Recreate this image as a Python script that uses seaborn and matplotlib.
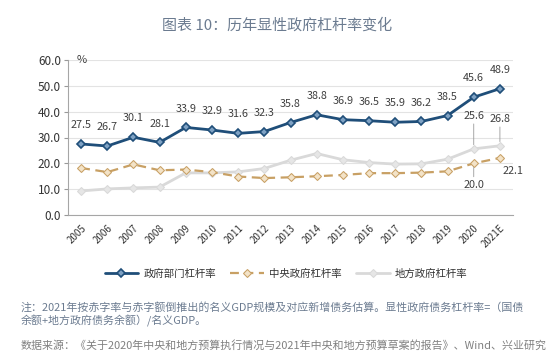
import matplotlib
import numpy as np
import pandas as pd

matplotlib.use("Agg")
import matplotlib.pyplot as plt  # noqa: E402
import seaborn as sns  # noqa: E402

# 数据
years = ["2005", "2006", "2007", "2008", "2009", "2010", "2011", "2012", "2013",
         "2014", "2015", "2016", "2017", "2018", "2019", "2020", "2021E"]
total = [27.5, 26.7, 30.1, 28.1, 33.9, 32.9, 31.6, 32.3, 35.8,
         38.8, 36.9, 36.5, 35.9, 36.2, 38.5, 45.6, 48.9]
central = [18.2, 16.6, 19.6, 17.3, 17.6, 16.6, 14.9, 14.3, 14.6,
           15.0, 15.5, 16.2, 16.2, 16.4, 16.9, 20.0, 22.1]
local = [9.3, 10.1, 10.5, 10.8, 16.3, 16.3, 16.7, 18.0, 21.2,
         23.8, 21.4, 20.3, 19.7, 19.8, 21.6, 25.6, 26.8]
names = ["政府部门杠杆率", "中央政府杠杆率", "地方政府杠杆率"]

sns.set_style("white")
plt.rcParams["font.family"] = ["Noto Sans CJK SC", "DejaVu Sans"]

NAVY = "#1f4e79"
TAN = "#c8a064"
LGRAY = "#d9d9d9"
TXT = "#404040"

df = pd.DataFrame({"idx": np.arange(len(years)), "total": total,
                   "central": central, "local": local})

fig = plt.figure(figsize=(5.54, 3.54), dpi=100)
ax = fig.add_axes([68 / 554, 1 - 215 / 354, 445 / 554, 155 / 354])

ax.set_axisbelow(True)
ax.grid(axis="y", color="#e3e3e3", lw=0.8)

sns.lineplot(data=df, x="idx", y="local", ax=ax, color=LGRAY, lw=2,
             marker="D", ms=4, mec=LGRAY, mfc="#e6e6e6", label=names[2], zorder=2)
sns.lineplot(data=df, x="idx", y="central", ax=ax, color=TAN, lw=1.6,
             marker="D", ms=4, mec=TAN, mfc="#f3e3c8", label=names[1], zorder=3)
ax.lines[-1].set_linestyle((0, (4, 2.5)))
sns.lineplot(data=df, x="idx", y="total", ax=ax, color=NAVY, lw=2,
             marker="D", ms=4.2, mec=NAVY, mfc="#7fa2c4", mew=1.2, label=names[0], zorder=4)

# 数据标签
for i, v in enumerate(total):
    ax.annotate(f"{v:.1f}", (i, v), xytext=(0, 10), textcoords="offset points",
                ha="center", va="bottom", fontsize=7.8, color=TXT)
n = len(years)
for i, dy in [(n - 2, 6.5), (n - 1, 4.5)]:
    ax.annotate(f"{local[i]:.1f}", (i, local[i]), xytext=(0, dy * 2.2 + 6),
                textcoords="offset points", ha="center", va="bottom", fontsize=7.8,
                color=TXT, arrowprops=dict(arrowstyle="-", color="#999999", lw=0.6,
                                           shrinkA=0, shrinkB=3))
ax.annotate(f"{central[n - 2]:.1f}", (n - 2, central[n - 2]), xytext=(0, -12),
            textcoords="offset points", ha="center", va="top", fontsize=7.8,
            color=TXT, arrowprops=dict(arrowstyle="-", color="#999999", lw=0.6,
                                       shrinkA=0, shrinkB=3))
ax.annotate(f"{central[n - 1]:.1f}", (n - 1, central[n - 1]), xytext=(2, -6),
            textcoords="offset points", ha="left", va="top", fontsize=7.8, color=TXT)

# 坐标轴
ax.set_xlim(-0.5, n - 0.5)
ax.set_ylim(0, 60)
ax.set_yticks(np.arange(0, 61, 10))
ax.set_yticklabels([f"{t:.1f}" for t in np.arange(0, 61, 10)], fontsize=8.5, color="#333333")
ax.set_xticks(np.arange(n))
ax.set_xticklabels(years, rotation=45, ha="right", rotation_mode="anchor",
                   fontsize=7, color="#333333")
ax.set_xticks(np.arange(-0.5, n, 1), minor=True)
ax.tick_params(axis="x", which="major", length=0, pad=6)
ax.tick_params(axis="x", which="minor", length=3, color="#999999", direction="out")
ax.tick_params(axis="y", length=3, color="#999999", direction="out", pad=2)
ax.tick_params(axis="y", left=True)
ax.set_xlabel("")
ax.set_ylabel("")
sns.despine(ax=ax)
for s in ["left", "bottom"]:
    ax.spines[s].set_color("#a6a6a6")
ax.text(0.02, 1.0, "%", transform=ax.transAxes, ha="left", va="center",
        fontsize=8, color=TXT)

handles, labels = ax.get_legend_handles_labels()
order = [labels.index(nm) for nm in names]
ax.legend([handles[k] for k in order], names, loc="center",
          bbox_to_anchor=(0.49, -0.38), ncol=3, frameon=False, fontsize=7.5,
          handlelength=3.2, columnspacing=1.4, handletextpad=0.5, labelcolor="#333333")

# 标题与注释
fig.text(277 / 554, 1 - 25 / 354, "图表 10：历年显性政府杠杆率变化", ha="center", va="center",
         fontsize=10.8, color="#6b7b90", fontweight="medium")
fig.text(21 / 554, 1 - 307 / 354, "注：2021年按赤字率与赤字额倒推出的名义GDP规模及对应新增债务估算。显性政府债务杠杆率=（国债",
         ha="left", va="center", fontsize=7.9, color="#6b7b90")
fig.text(21 / 554, 1 - 321 / 354, "余额+地方政府债务余额）/名义GDP。",
         ha="left", va="center", fontsize=7.9, color="#6b7b90")
fig.text(21 / 554, 1 - 345 / 354, "数据来源：《关于2020年中央和地方预算执行情况与2021年中央和地方预算草案的报告》、Wind、兴业研究",
         ha="left", va="center", fontsize=7.9, color="#808080")

fig.savefig("out.png", dpi=100)
